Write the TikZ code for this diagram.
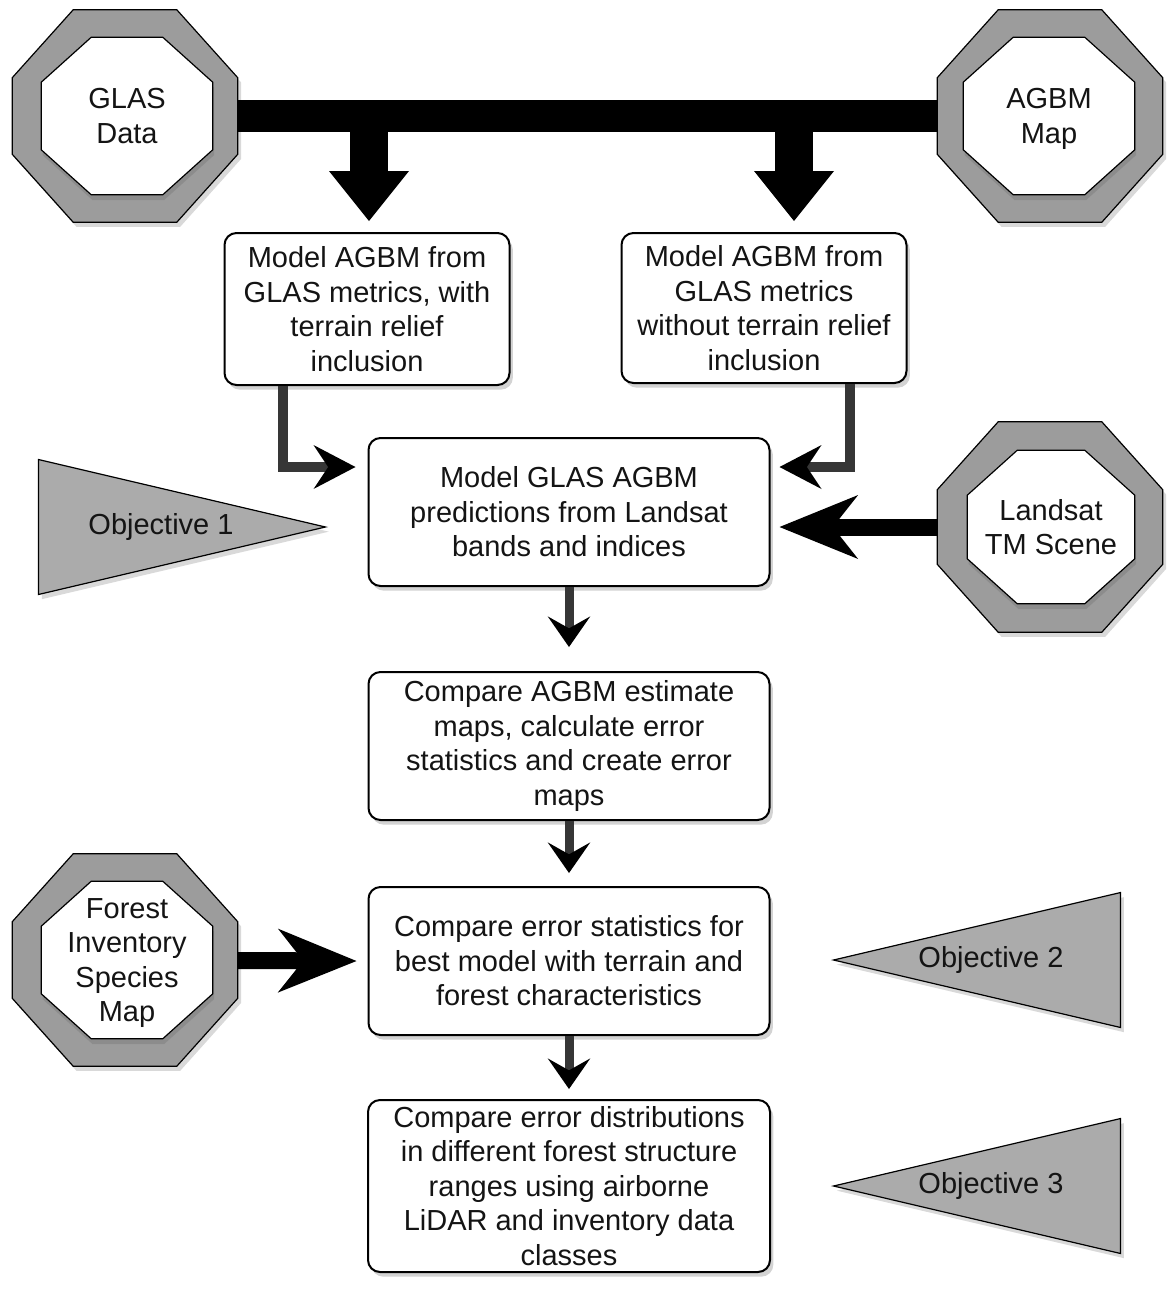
\documentclass[tikz,border=0pt]{standalone}
\usepackage{fontspec}
\setmainfont{Liberation Sans}
\usetikzlibrary{arrows.meta,calc,shapes.geometric,shadows,backgrounds}
\definecolor{ink}{HTML}{141414}
\definecolor{ringfill}{HTML}{9C9C9C}
\definecolor{objfill}{HTML}{ABABAB}
\definecolor{stemink}{HTML}{363636}
% octagon drawn round a node's rectangle: name, x chamfer, y chamfer, style
\newcommand{\octagonround}[4]{%
  \draw[#4] ($(#1.north west)+(#2,0)$) -- ($(#1.north east)+(-#2,0)$)
    -- ($(#1.north east)+(0,#3)$) -- ($(#1.south east)+(0,-#3)$)
    -- ($(#1.south east)+(-#2,0)$) -- ($(#1.south west)+(#2,0)$)
    -- ($(#1.south west)+(0,-#3)$) -- ($(#1.north west)+(0,#3)$) -- cycle;}
\tikzset{
  boxfont/.style={font=\fontsize{21.75pt}{25.9pt}\selectfont,text=ink},
  taskbox/.style={boxfont,draw=black,fill=white,line width=1.5pt,rounded corners=9pt,align=center,inner sep=0pt,
    drop shadow={shadow xshift=2.5pt,shadow yshift=-3.5pt,opacity=0.35}},
  sourcering/.style={rectangle,inner sep=0pt,minimum width=168.75pt,minimum height=159pt},
  sourcecore/.style={boxfont,rectangle,align=center,inner sep=0pt,text depth=0pt,minimum width=128.25pt,minimum height=117.75pt},
  ringdraw/.style={draw=black,line width=0.9pt,fill=ringfill,
    drop shadow={shadow xshift=2.5pt,shadow yshift=-3.5pt,opacity=0.3}},
  coredraw/.style={draw=black,line width=0.9pt,fill=white,
    drop shadow={shadow xshift=1pt,shadow yshift=-4pt,opacity=0.55}},
  objective/.style={isosceles triangle,isosceles triangle stretches,minimum width=101.25pt,minimum height=215.25pt,
    inner sep=0pt,draw=black,line width=0.9pt,fill=objfill,
    drop shadow={shadow xshift=2.5pt,shadow yshift=-3.5pt,opacity=0.3}},
  objtext/.style={boxfont,inner sep=0pt},
  busbar/.style={draw=black,line width=24pt},
  fatarrow/.style={draw=black,line width=28.5pt,-{Triangle[length=37.5pt,width=60pt,line width=0pt]}},
  sidearrow/.style={draw=black,line width=12.75pt,-{Stealth[length=59pt,width=48pt,inset=19pt,line width=0pt]}},
  elbow/.style={draw=stemink,line width=7.5pt,-{Stealth[length=31.5pt,width=33pt,inset=11pt,line width=0pt,color=black]}},
  flow/.style={draw=stemink,line width=6.75pt,-{Stealth[length=23pt,width=32pt,inset=9pt,line width=0pt,color=black]}}
}

\begin{document}
\begin{tikzpicture}[x=0.75pt,y=-0.75pt]
\path[use as bounding box] (0,0) rectangle (1168,1289);

% data sources
\node[sourcering] (glas-frame) at (125,116) {};
\node[sourcecore] (glas) at (127,116) {GLAS\\Data};
\node[sourcering] (agbm-frame) at (1050,116) {};
\node[sourcecore] (agbm) at (1049,116) {AGBM\\Map};
\node[sourcering,minimum height=157.5pt] (landsat-frame) at (1050,527) {};
\node[sourcecore,minimum width=125.25pt,minimum height=114.75pt] (landsat) at (1051,527) {Landsat\\TM Scene};
\node[sourcering] (forest-frame) at (125,960) {};
\node[sourcecore] (forest) at (127,960) {Forest\\Inventory\\Species\\Map};
\begin{scope}[on background layer]
\foreach \src in {glas,agbm,landsat,forest}{
  \octagonround{\src-frame}{61}{68}{ringdraw}
  \octagonround{\src}{50}{45}{coredraw}
}
\end{scope}

% processing steps
\node[taskbox,minimum width=213.75pt,minimum height=114pt] (model-terrain) at (367,309)
  {Model AGBM from\\GLAS metrics, with\\terrain relief\\inclusion};
\node[taskbox,minimum width=213.75pt,minimum height=112.5pt] (model-noterrain) at (764,308)
  {Model AGBM from\\GLAS metrics\\without terrain relief\\inclusion};
\node[taskbox,minimum width=300.75pt,minimum height=111pt] (landsat-model) at (569,512)
  {Model GLAS AGBM\\predictions from Landsat\\bands and indices};
\node[taskbox,minimum width=300.75pt,minimum height=111pt] (compare-maps) at (569,746)
  {Compare AGBM estimate\\maps, calculate error\\statistics and create error\\maps};
\node[taskbox,minimum width=300.75pt,minimum height=111pt] (compare-terrain) at (569,961)
  {Compare error statistics for\\best model with terrain and\\forest characteristics};
\node[taskbox,minimum width=301.5pt,minimum height=129pt] (compare-classes) at (569,1186)
  {Compare error distributions\\in different forest structure\\ranges using airborne\\LiDAR and inventory data\\classes};

% objectives
\node[objective,anchor=apex] (obj-1) at (327,527) {};
\node[objtext] (obj-1-text) at (161,527) {Objective 1};
\node[objective,shape border rotate=180,anchor=apex] (obj-2) at (832,960) {};
\node[objtext] (obj-2-text) at (991,960) {Objective 2};
\node[objective,shape border rotate=180,anchor=apex] (obj-3) at (832,1186) {};
\node[objtext] (obj-3-text) at (991,1186) {Objective 3};

% connectors
\draw[busbar] (glas-frame) -- (agbm-frame);
\coordinate (drop-a) at ($(model-terrain.north)+(2,-11)$);
\coordinate (drop-b) at ($(model-noterrain.north)+(30,-11)$);
\draw[fatarrow] (drop-a |- glas-frame) -- (drop-a);
\draw[fatarrow] (drop-b |- glas-frame) -- (drop-b);
\draw[elbow] ($(model-terrain.south)+(-84,0)$) |- ($(landsat-model.west)+(-12,-45)$);
\draw[elbow] ($(model-noterrain.south)+(86,0)$) |- ($(landsat-model.east)+(9,-45)$);
\coordinate (landsat-tip) at ($(landsat-model.east)+(9,15)$);
\draw[sidearrow] (landsat-frame) -- (landsat-tip);
\draw[sidearrow] (forest-frame) -- ($(compare-terrain.west)+(-11,0)$);
\draw[flow] (landsat-model.south) -- ($(compare-maps.north)+(0,-24)$);
\draw[flow] (compare-maps.south) -- ($(compare-terrain.north)+(0,-13)$);
\draw[flow] (compare-terrain.south) -- ($(compare-classes.north)+(0,-10)$);
\end{tikzpicture}
\end{document}
